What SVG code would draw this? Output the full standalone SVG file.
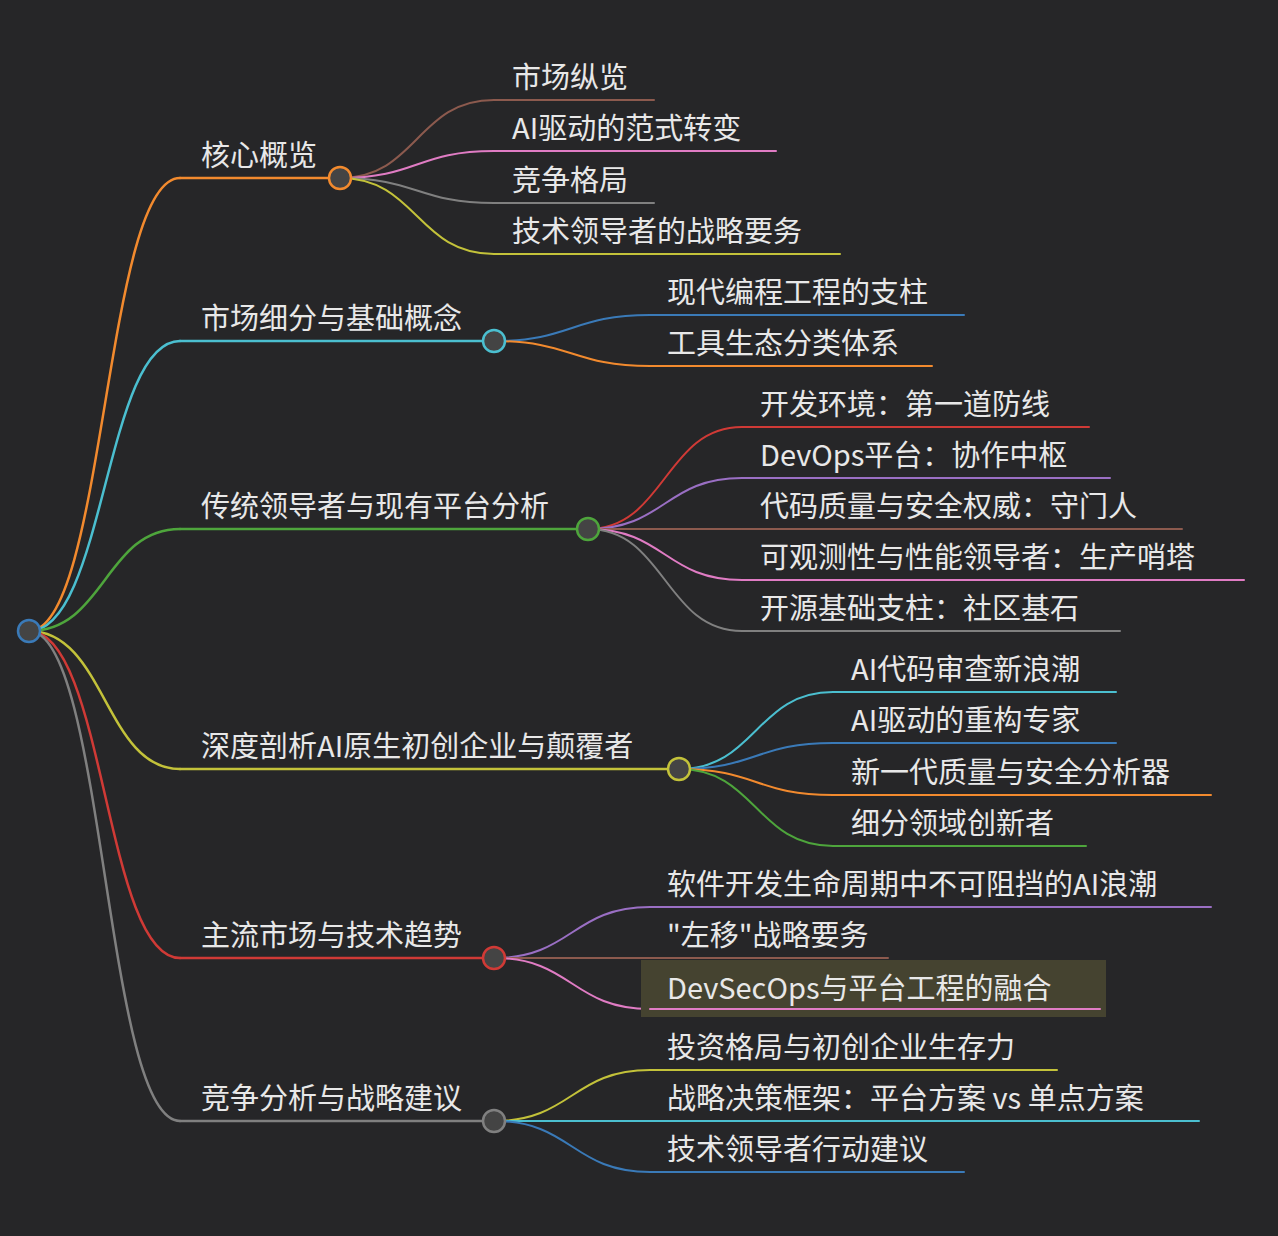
<svg xmlns="http://www.w3.org/2000/svg" width="1278" height="1236" viewBox="0 0 1278 1236">
<style>
text{font-family:"Noto Sans CJK SC","Noto Sans",sans-serif;font-size:29px;fill:#e8e8e8}
path{fill:none;stroke-linecap:round}
.l1{stroke-width:2.5}
.l2{stroke-width:2}
circle{fill:#444;stroke-width:2.5}
</style>
<rect width="1278" height="1236" fill="#262628"/>
<g id="connectors">
<path class="l1" stroke="#f28a2e" d="M29 631C105 631 105 178 180 178"/>
<path class="l1" stroke="#4bbfd0" d="M29 631C105 631 105 341 180 341"/>
<path class="l1" stroke="#4ea53c" d="M29 631C105 631 105 529 180 529"/>
<path class="l1" stroke="#c3c23a" d="M29 631C105 631 105 769 180 769"/>
<path class="l1" stroke="#d03a36" d="M29 631C105 631 105 958 180 958"/>
<path class="l1" stroke="#808080" d="M29 631C105 631 105 1121 180 1121"/>
<path class="l2" stroke="#8c5a4e" d="M340 178C417 178 417 100 494 100"/>
<path class="l2" stroke="#e07cc4" d="M340 178C417 178 417 151 494 151"/>
<path class="l2" stroke="#808080" d="M340 178C417 178 417 203 494 203"/>
<path class="l2" stroke="#c3c23a" d="M340 178C417 178 417 254 494 254"/>
<path class="l2" stroke="#3a7ab8" d="M494 341C572 341 572 315 650 315"/>
<path class="l2" stroke="#f28a2e" d="M494 341C572 341 572 366 650 366"/>
<path class="l2" stroke="#d03a36" d="M588 529C665 529 665 427 742 427"/>
<path class="l2" stroke="#9a6fc4" d="M588 529C665 529 665 478 742 478"/>
<path class="l2" stroke="#8c5a4e" d="M588 529C665 529 665 529 742 529"/>
<path class="l2" stroke="#e07cc4" d="M588 529C665 529 665 580 742 580"/>
<path class="l2" stroke="#808080" d="M588 529C665 529 665 631 742 631"/>
<path class="l2" stroke="#4bbfd0" d="M679 769C756 769 756 692 833 692"/>
<path class="l2" stroke="#3a7ab8" d="M679 769C756 769 756 743 833 743"/>
<path class="l2" stroke="#f28a2e" d="M679 769C756 769 756 795 833 795"/>
<path class="l2" stroke="#4ea53c" d="M679 769C756 769 756 846 833 846"/>
<path class="l2" stroke="#9a6fc4" d="M494 958C572 958 572 907 650 907"/>
<path class="l2" stroke="#8c5a4e" d="M494 958C572 958 572 958 650 958"/>
<path class="l2" stroke="#e07cc4" d="M494 958C572 958 572 1009 650 1009"/>
<path class="l2" stroke="#c3c23a" d="M494 1121C572 1121 572 1070 650 1070"/>
<path class="l2" stroke="#4bbfd0" d="M494 1121C572 1121 572 1121 650 1121"/>
<path class="l2" stroke="#3a7ab8" d="M494 1121C572 1121 572 1172 650 1172"/>
</g>
<g id="n-core"><path class="l1" stroke="#f28a2e" d="M180 178H340"/><text x="201" y="166">核心概览</text><circle cx="340" cy="178" r="11" stroke="#f28a2e"/></g>
<g id="n-core-1"><path class="l2" stroke="#8c5a4e" d="M494 100H654"/><text x="512" y="88">市场纵览</text></g>
<g id="n-core-2"><path class="l2" stroke="#e07cc4" d="M494 151H776"/><text x="512" y="139">AI驱动的范式转变</text></g>
<g id="n-core-3"><path class="l2" stroke="#808080" d="M494 203H654"/><text x="512" y="191">竞争格局</text></g>
<g id="n-core-4"><path class="l2" stroke="#c3c23a" d="M494 254H840"/><text x="512" y="242">技术领导者的战略要务</text></g>
<g id="n-seg"><path class="l1" stroke="#4bbfd0" d="M180 341H494"/><text x="201" y="329">市场细分与基础概念</text><circle cx="494" cy="341" r="11" stroke="#4bbfd0"/></g>
<g id="n-seg-1"><path class="l2" stroke="#3a7ab8" d="M650 315H964"/><text x="667" y="303">现代编程工程的支柱</text></g>
<g id="n-seg-2"><path class="l2" stroke="#f28a2e" d="M650 366H932"/><text x="667" y="354">工具生态分类体系</text></g>
<g id="n-trad"><path class="l1" stroke="#4ea53c" d="M180 529H588"/><text x="201" y="517">传统领导者与现有平台分析</text><circle cx="588" cy="529" r="11" stroke="#4ea53c"/></g>
<g id="n-trad-1"><path class="l2" stroke="#d03a36" d="M742 427H1089"/><text x="760" y="415">开发环境：第一道防线</text></g>
<g id="n-trad-2"><path class="l2" stroke="#9a6fc4" d="M742 478H1110"/><text x="760" y="466">DevOps平台：协作中枢</text></g>
<g id="n-trad-3"><path class="l2" stroke="#8c5a4e" d="M742 529H1182"/><text x="760" y="517">代码质量与安全权威：守门人</text></g>
<g id="n-trad-4"><path class="l2" stroke="#e07cc4" d="M742 580H1244"/><text x="760" y="568">可观测性与性能领导者：生产哨塔</text></g>
<g id="n-trad-5"><path class="l2" stroke="#808080" d="M742 631H1120"/><text x="760" y="619">开源基础支柱：社区基石</text></g>
<g id="n-ai"><path class="l1" stroke="#c3c23a" d="M180 769H679"/><text x="201" y="757">深度剖析AI原生初创企业与颠覆者</text><circle cx="679" cy="769" r="11" stroke="#c3c23a"/></g>
<g id="n-ai-1"><path class="l2" stroke="#4bbfd0" d="M833 692H1116"/><text x="851" y="680">AI代码审查新浪潮</text></g>
<g id="n-ai-2"><path class="l2" stroke="#3a7ab8" d="M833 743H1116"/><text x="851" y="731">AI驱动的重构专家</text></g>
<g id="n-ai-3"><path class="l2" stroke="#f28a2e" d="M833 795H1211"/><text x="851" y="783">新一代质量与安全分析器</text></g>
<g id="n-ai-4"><path class="l2" stroke="#4ea53c" d="M833 846H1086"/><text x="851" y="834">细分领域创新者</text></g>
<g id="n-trend"><path class="l1" stroke="#d03a36" d="M180 958H494"/><text x="201" y="946">主流市场与技术趋势</text><circle cx="494" cy="958" r="11" stroke="#d03a36"/></g>
<g id="n-trend-1"><path class="l2" stroke="#9a6fc4" d="M650 907H1211"/><text x="667" y="895">软件开发生命周期中不可阻挡的AI浪潮</text></g>
<g id="n-trend-2"><path class="l2" stroke="#8c5a4e" d="M650 958H888"/><text x="667" y="946">"左移"战略要务</text></g>
<g id="n-trend-3"><rect x="641" y="960" width="465" height="57" fill="#454330"/><path class="l2" stroke="#e07cc4" d="M650 1009H1100"/><text x="667" y="999">DevSecOps与平台工程的融合</text></g>
<g id="n-comp"><path class="l1" stroke="#808080" d="M180 1121H494"/><text x="201" y="1109">竞争分析与战略建议</text><circle cx="494" cy="1121" r="11" stroke="#808080"/></g>
<g id="n-comp-1"><path class="l2" stroke="#c3c23a" d="M650 1070H1057"/><text x="667" y="1058">投资格局与初创企业生存力</text></g>
<g id="n-comp-2"><path class="l2" stroke="#4bbfd0" d="M650 1121H1199"/><text x="667" y="1109">战略决策框架：平台方案 vs 单点方案</text></g>
<g id="n-comp-3"><path class="l2" stroke="#3a7ab8" d="M650 1172H964"/><text x="667" y="1160">技术领导者行动建议</text></g>
<g id="root"><circle cx="29" cy="631" r="11" stroke="#3a7ab8"/></g>
</svg>
